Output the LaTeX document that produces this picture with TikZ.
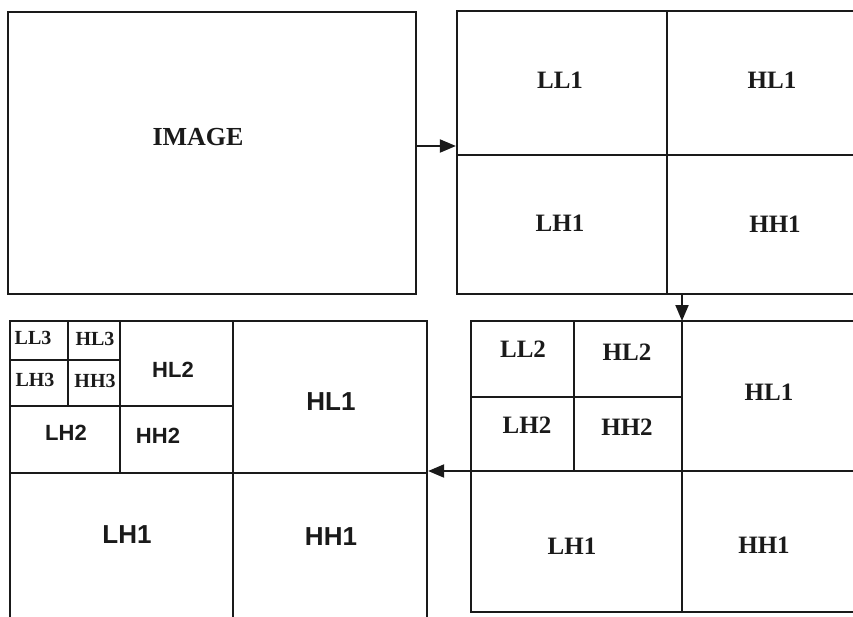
\documentclass[tikz,border=0pt]{standalone}
\usepackage{fontspec}
\setmainfont{Liberation Serif}
\newfontfamily\arialf{Liberation Sans}
\usetikzlibrary{arrows.meta,positioning}
\definecolor{ink}{HTML}{1A1A1A}
\tikzset{
  frame/.style={rectangle,draw=ink,line width=2.2pt,inner sep=0pt},
  div/.style={line width=1.9pt,color=ink},
  flow/.style={-{Triangle[length=16pt,width=13pt]},line width=2pt,color=ink},
  tms/.style={font=\fontsize{25}{28}\selectfont\bfseries,text=ink,inner sep=0pt},
  tmss/.style={font=\fontsize{20}{22}\selectfont\bfseries,text=ink,inner sep=0pt},
  ars/.style={font=\arialf\fontsize{26}{28}\selectfont\bfseries,text=ink,inner sep=0pt},
  arss/.style={font=\arialf\fontsize{22}{24}\selectfont\bfseries,text=ink,inner sep=0pt}
}
\begin{document}
\begin{tikzpicture}[x=1pt,y=-1pt]
  \useasboundingbox (0,0) rectangle (853,616);
  \clip (0,0) rectangle (853,616);
  % input image
  \node[frame,minimum width=408pt,minimum height=282pt] (img) at (212,153) {};
  \node[tms,font=\fontsize{26}{28}\selectfont\bfseries] (imgt) at (198,137) {IMAGE};
  % first level
  \node[frame,minimum width=423pt,minimum height=283pt] (lvl1) at (668.5,152.5) {};
  \draw[div] (667,11) -- (667,294);
  \draw[div] (457,155) -- (880,155);
  \node[tms] (ll1) at (560,80)  {LL1};
  \node[tms] (hl1) at (772,80)  {HL1};
  \node[tms] (lh1) at (560,223) {LH1};
  \node[tms] (hh1) at (775,224) {HH1};
  % second level
  \node[frame,minimum width=409pt,minimum height=291pt] (lvl2) at (675.5,466.5) {};
  \draw[div] (682,321) -- (682,612);
  \draw[div] (471,471) -- (880,471);
  \draw[div] (574,321) -- (574,471);
  \draw[div] (471,397) -- (682,397);
  \node[tms] (ll2)  at (523,349) {LL2};
  \node[tms] (hl2)  at (627,352) {HL2};
  \node[tms] (lh2)  at (527,425) {LH2};
  \node[tms] (hh2)  at (627,427) {HH2};
  \node[tms] (hl1b) at (769,392) {HL1};
  \node[tms] (lh1b) at (572,546) {LH1};
  \node[tms] (hh1b) at (764,545) {HH1};
  % third level
  \node[frame,minimum width=417pt,minimum height=319pt] (lvl3) at (218.5,480.5) {};
  \draw[div] (233,321) -- (233,640);
  \draw[div] (10,473) -- (427,473);
  \draw[div] (120,321) -- (120,473);
  \draw[div] (10,406) -- (233,406);
  \draw[div] (68,321) -- (68,406);
  \draw[div] (10,360) -- (120,360);
  \node[tmss] (ll3)  at (33,338)  {LL3};
  \node[tmss] (hl3)  at (95,339)  {HL3};
  \node[tmss] (lh3)  at (35,380)  {LH3};
  \node[tmss] (hh3)  at (95,381)  {HH3};
  \node[arss] (hl2c) at (173,370) {HL2};
  \node[arss] (lh2c) at (66,433)  {LH2};
  \node[arss] (hh2c) at (158,436) {HH2};
  \node[ars]  (hl1c) at (331,402) {HL1};
  \node[ars]  (lh1c) at (127,535) {LH1};
  \node[ars]  (hh1c) at (331,537) {HH1};
  % decomposition steps
  \coordinate (a1) at ([yshift=7pt]img.east);
  \coordinate (a2) at (682,321);
  \coordinate (a3) at (682,471);
  \draw[flow] (a1) -- (a1 -| lvl1.west);
  \draw[flow] (lvl1.south -| a2) -- (a2);
  \draw[flow] (lvl2.west |- a3) -- (lvl3.east |- a3);
\end{tikzpicture}
\end{document}
